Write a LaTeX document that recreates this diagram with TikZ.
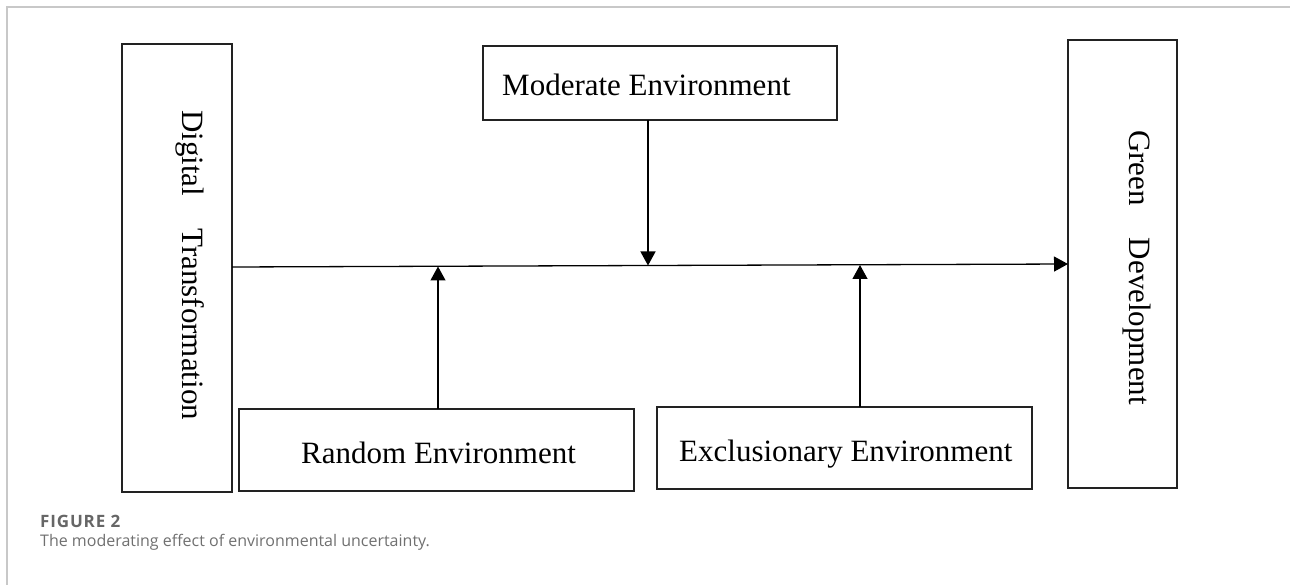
\documentclass[tikz,border=0pt]{standalone}
\usepackage{fontspec}
\setmainfont{Liberation Serif}
\newfontfamily\capfont{Open Sans}
\usetikzlibrary{arrows.meta}
\definecolor{framegray}{HTML}{C8C8C8}
\definecolor{capgray}{HTML}{666666}
\definecolor{captext}{HTML}{707070}
\definecolor{boxline}{HTML}{222222}
\begin{document}
\begin{tikzpicture}[x=1pt,y=-1pt,
  box/.style={draw=boxline,line width=1.3pt,inner sep=0pt,outer sep=0pt},
  lbl/.style={inner sep=0pt,font=\fontsize{31}{31}\selectfont},
  arr/.style={line width=1.3pt,-{Triangle[length=14pt,width=15pt]}},
  frame/.style={draw=framegray,line width=1.5pt}]
\useasboundingbox (0,0) rectangle (1290,585);
% frame
\draw[frame] (7,585) -- (7,7) -- (1290,7);
% boxes
\node[box,minimum width=110pt,minimum height=448pt] (DT) at (177,268) {};
\node[box,minimum width=109pt,minimum height=448pt] (GD) at (1122.5,264) {};
\node[box,minimum width=354pt,minimum height=74pt] (ME) at (660,83) {};
\node[box,minimum width=395pt,minimum height=82pt] (RE) at (436.5,450) {};
\node[box,minimum width=375pt,minimum height=82pt] (EE) at (844.5,448) {};
% labels
\node[lbl,anchor=base west,rotate=-90] (DTl) at (182,110) {Digital\hspace{32pt}Transformation};
\node[lbl,anchor=base west,rotate=-90] (GDl) at (1129,130) {Green\hspace{32pt}Development};
\node[lbl,anchor=base west] (MEl) at (502,96) {Moderate Environment};
\node[lbl,anchor=base west] (REl) at (301,463) {Random Environment};
\node[lbl,anchor=base west] (EEl) at (679,461) {Exclusionary Environment};
% connector points
\coordinate (ms) at (232,267);
\coordinate (me) at (1068,264);
\coordinate (mt) at (648,265.5);
\coordinate (rt) at (438,266.5);
\coordinate (et) at (860,265);
% connectors
\draw[arr] (ms) -- (me);
\draw[arr] (ME.south -| mt) -- (mt);
\draw[arr] (RE.north -| rt) -- (rt);
\draw[arr] (EE.north -| et) -- (et);
% caption
\node[anchor=base west,inner sep=0pt,text=capgray,font=\capfont\bfseries\fontsize{17}{17}\selectfont\addfontfeatures{LetterSpace=5}] (cap1) at (40,527) {FIGURE 2};
\node[anchor=base west,inner sep=0pt,text=captext,font=\capfont\fontsize{16}{16}\selectfont] (cap2) at (40,546.5) {The moderating effect of environmental uncertainty.};
\end{tikzpicture}
\end{document}
